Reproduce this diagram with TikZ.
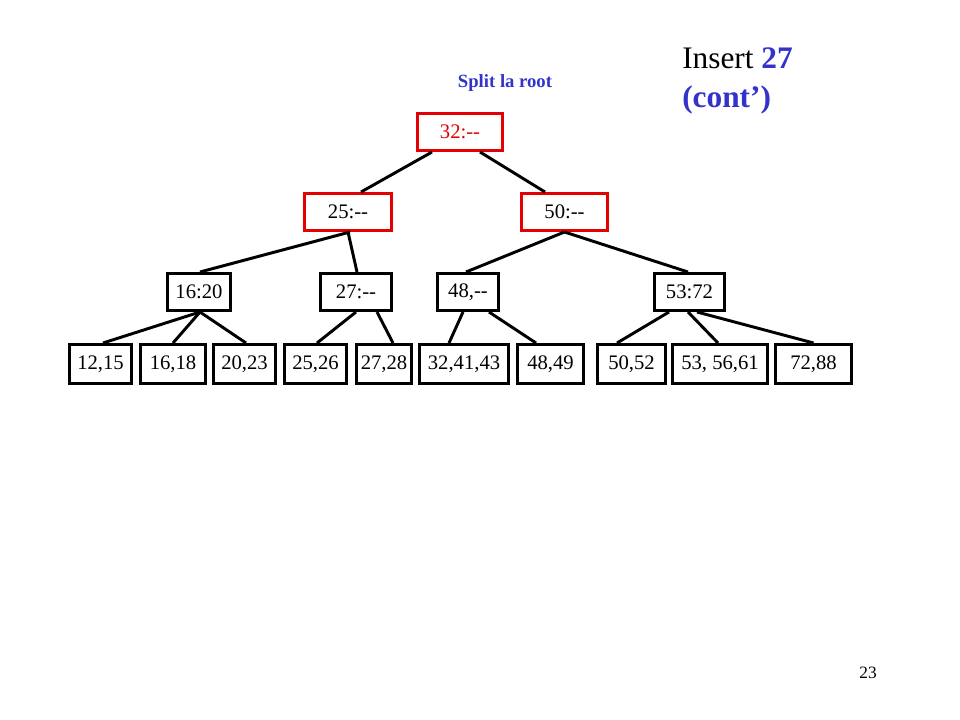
\documentclass[tikz,border=0pt]{standalone}
\usepackage{fontspec}
\setmainfont{Liberation Serif}
\usetikzlibrary{calc}
\definecolor{boxred}{RGB}{228,0,0}
\definecolor{titleblue}{RGB}{51,51,204}
\tikzset{
  bx/.style={draw,line width=2.2pt,minimum width=#1*0.75pt-2.2pt,minimum height=27.8pt,
    inner sep=0pt,font=\fontsize{15.5}{18}\selectfont},
  leaf/.style={bx=#1,minimum height=29.3pt},
  redbx/.style={bx=#1,draw=boxred},
  link/.style={line width=2.2pt}
}
\begin{document}
\begin{tikzpicture}[x=0.75pt,y=-0.75pt]
\useasboundingbox (0,0) rectangle (960,720);
%title
\node[anchor=base west,inner sep=0pt,font=\fontsize{23.5}{26}\selectfont] (title) at (682,69) {Insert \textcolor{titleblue}{\bfseries 27}};
\node[anchor=base west,inner sep=0pt,font=\fontsize{23.5}{26}\selectfont\bfseries,text=titleblue] (cont) at (682,108) {(cont’)};
\node[anchor=base,font=\fontsize{14}{16}\selectfont\bfseries,text=titleblue] (split) at (505,88) {Split la root};
%root
\node[redbx=88,text=boxred] (r) at (460,132) {32:-{}-};
\node[redbx=90] (a) at (348,212) {25:-{}-};
\node[redbx=89] (b) at (564.5,212) {50:-{}-};
%livello 2
\node[bx=66] (a1) at (199,292) {16:20};
\node[bx=74] (a2) at (356,292) {27:-{}-};
\node[bx=64] (b1) at (468,292) {48,-{}-};
\node[bx=73] (b2) at (689.5,292) {53:72};
%foglie
\node[leaf=65] (l1) at (100.5,364) {12,15};
\node[leaf=68] (l2) at (173,364) {16,18};
\node[leaf=65] (l3) at (244.5,364) {20,23};
\node[leaf=65] (l4) at (315.5,364) {25,26};
\node[leaf=58] (l5) at (384,364) {27,28};
\node[leaf=92] (l6) at (464,364) {32,41,43};
\node[leaf=69] (l7) at (550.5,364) {48,49};
\node[leaf=71] (l8) at (631.5,364) {50,52};
\node[leaf=98] (l9) at (720,364) {53, 56,61};
\node[leaf=79] (l10) at (813.5,364) {72,88};
%archi
\draw[link] ($(r.south)+(-28,0)$) -- ($(a.north)+(13,0)$);
\draw[link] ($(r.south)+(20,0)$) -- ($(b.north)+(-19.5,0)$);
\draw[link] ($(a.south)+(2,0)$) -- ($(a1.north)+(1,0)$);
\draw[link] (a.south) -- ($(a2.north)+(1,0)$);
\draw[link] (b.south) -- ($(b1.north)+(-2,0)$);
\draw[link] (b.south) -- ($(b2.north)+(-1.5,0)$);
\draw[link] ($(a1.south)+(1,0)$) -- ($(l1.north)+(2.5,0)$);
\draw[link] ($(a1.south)+(1,0)$) -- (l2.north);
\draw[link] ($(a1.south)+(1,0)$) -- ($(l3.north)+(1.5,0)$);
\draw[link] (a2.south) -- ($(l4.north)+(1.5,0)$);
\draw[link] ($(a2.south)+(21,0)$) -- ($(l5.north)+(9,0)$);
\draw[link] ($(b1.south)+(-5,0)$) -- ($(l6.north)+(-15,0)$);
\draw[link] ($(b1.south)+(21,0)$) -- ($(l7.north)+(-14.5,0)$);
\draw[link] ($(b2.south)+(-20.5,0)$) -- ($(l8.north)+(-14.5,0)$);
\draw[link] ($(b2.south)+(-1.5,0)$) -- ($(l9.north)+(-2,0)$);
\draw[link] ($(b2.south)+(7.5,0)$) -- (l10.north);
%pagina
\node[font=\fontsize{13}{15}\selectfont] (page) at (868,673) {23};
\end{tikzpicture}
\end{document}
